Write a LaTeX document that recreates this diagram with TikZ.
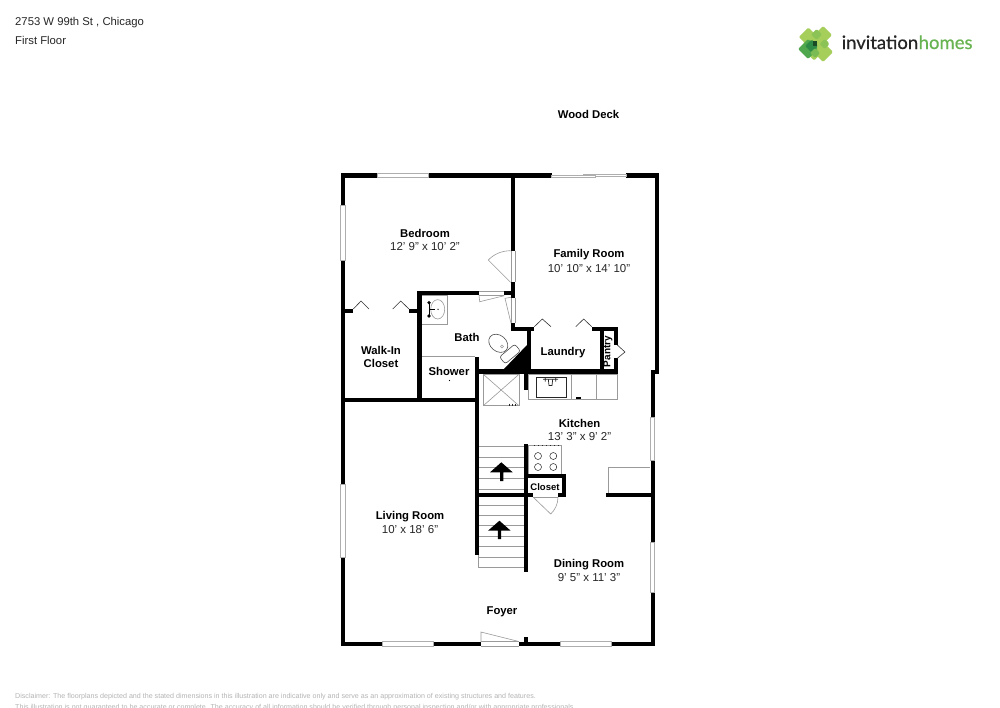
\documentclass[tikz,border=0pt]{standalone}
\usepackage{fontspec}
\setmainfont{Liberation Sans}
\newfontfamily\logofont[RawFeature={embolden=0.5}]{Lato}
\definecolor{thin}{HTML}{9A9A9A}
\definecolor{ltg}{HTML}{A6CE5A}
\definecolor{midg}{HTML}{4FA84E}
\definecolor{dkg}{HTML}{2E8B45}
\definecolor{disc}{HTML}{B4B4B4}
\newcommand{\wl}[4]{\fill[wallfill] (#1,#2) rectangle (#3,#4);}
\newcommand{\winh}[3]{\draw[winline] (#1,#2) rectangle (#3,#2+4.3);}
\newcommand{\winv}[3]{\draw[winline] (#1,#2) rectangle (#1+4.3,#3);}
\newcommand{\dmd}[4]{\fill[#1,rounded corners=1.2pt] (#2,#3-#4) -- (#2+#4,#3) -- (#2,#3+#4) -- (#2-#4,#3) -- cycle;}
\tikzset{
  wallfill/.style={fill=black},
  winline/.style={draw=thin!80,line width=.6pt,fill=white},
  fixture/.style={draw=thin,line width=.6pt},
  doorline/.style={draw=thin,line width=.6pt},
  darkline/.style={draw=black!85,line width=.7pt},
  rname/.style={font=\fontsize{11.3}{13}\selectfont\bfseries,inner sep=0pt,align=center,yshift=-.6pt},
  rsize/.style={font=\fontsize{11.5}{13}\selectfont,inner sep=0pt,text=black!85,yshift=-.6pt},
  head/.style={font=\fontsize{11.3}{13}\selectfont,inner sep=0pt,anchor=west,text=black!85},
  disclaimer/.style={font=\fontsize{7.12}{9}\selectfont,inner sep=0pt,anchor=west,text=disc},
}
\begin{document}
\begin{tikzpicture}[x=1pt,y=-1pt]
\useasboundingbox (0,0) rectangle (1000,707);
\clip (0,0) rectangle (1000,707);
\fill[white] (0,0) rectangle (1000,707);

% header
\node[head] (addr) at (15,23) {2753 W 99th St , Chicago};
\node[head] (floor) at (15,40) {First Floor};

% logo
\begin{scope}[shift={(815,43)}]
  \dmd{ltg}{1}{0}{13}
  \dmd{ltg}{-6.7}{-6}{9.5}
  \dmd{ltg}{8}{-8}{9}
  \dmd{ltg}{8}{9}{10}
  \dmd{ltg}{-1}{10}{7.5}
  \dmd{ltg!70!midg}{1.5}{-8.5}{5.5}
  \dmd{ltg!70!midg}{9.5}{1}{5}
  \dmd{midg}{-7}{6}{10}
  \dmd{dkg}{-3.5}{3}{6.5}
  \dmd{ltg!50!midg}{0}{10}{5}
  \fill[black!45!dkg] (-2,-2.5) rectangle (2,2.5);
\end{scope}
\node[font=\logofont\fontsize{18.5}{20}\selectfont,inner sep=0pt,anchor=base west,text=black!85] (logo1) at (841.5,49) {invitation};
\node[font=\logofont\fontsize{18.5}{20}\selectfont,inner sep=0pt,anchor=base west,text=midg!70!ltg] (logo2) at (918.5,49) {homes};

% fixtures under the walls
\foreach \yy in {446,457.3,467.7,478.3,489,505,515,525.7,536,546.7,557.3} \draw[fixture] (478,\yy) -- (524,\yy);
\draw[fixture] (478.5,555) -- (478.5,567.7) -- (524,567.7);

% counter
\draw[fixture] (528.3,374) rectangle (617.7,399.3);
\draw[fixture] (571.7,374) -- (571.7,399.3) (596.7,374) -- (596.7,399.3);
\draw[darkline] (536.5,377) rectangle (566,397);
\draw[darkline] (543,379.3) -- (558,379.3) (548.3,379.3) -- (549,385.5) -- (552,385.5) -- (552.7,379.3) (545.3,378) -- (545.3,381.5) (555.7,378) -- (555.7,381.5);
\fill[black] (575.7,397.3) rectangle (581,399);

% shower pan
\draw[fixture] (483.3,374.3) rectangle (519,405.7);
\draw[fixture] (483.3,374.3) -- (519,405.7) (519,374.3) -- (483.3,405.7);
\draw[darkline,line width=.4pt] (509,403.5) -- (509,405.7) (512,403.5) -- (512,405.7) (515,403.5) -- (515,405.7);
\fill (449.5,380.5) circle (.6);

% stove
\draw[fixture] (528,445) rectangle (561.7,474);
\foreach \xx/\yy in {538/456,553.3/456,538/467,553.3/467} \draw[darkline,line width=.5pt] (\xx,\yy) circle (3.5);
\draw[darkline,dash pattern=on 1pt off 3pt] (534,445.5) -- (560,445.5);

% peninsula
\draw[fixture] (650,467.3) -- (608.3,467.3) -- (608.3,493);

% bath sink
\draw[fixture] (421.7,295) rectangle (447.3,324.3);
\draw[fixture] (437.7,309.3) ellipse (7 and 9.7);
\draw[black,line width=.8pt] (429,302.7) -- (429,316) (429,309.3) -- (435,309.3);
\fill (429,302.7) circle (1.8) (429,316) circle (1.8) (438,309.3) circle (.7);

% toilet
\draw[fixture,draw=black!70,fill=white,rotate around={-40:(498.3,343.3)}] (498.3,343.3) ellipse (10.5 and 8);
\draw[fixture] (502,346.5) circle (1.5);
\draw[fixture,draw=black!70,fill=white,rounded corners=2.5pt,rotate around={40:(510,354)}] (500,349.5) rectangle (520,358.5);

% shower
\draw[fixture] (421,356.7) -- (475,356.7);

% walls: outer
\wl{341}{173.3}{659.3}{177.5}
\wl{341}{173.3}{345}{646}
\wl{655}{173.3}{659.3}{374}
\wl{650.6}{370}{655}{646}
\wl{341}{641.7}{655}{646}
% bedroom / family wall
\wl{511}{173.3}{515}{331}
% bath walls
\wl{417.3}{291}{421.5}{402}
\wl{417.3}{291}{515}{295}
\wl{341}{309}{353.3}{313}
\wl{409}{309}{417.3}{313}
\wl{341}{398.3}{479}{402.3}
\wl{474.7}{357}{478.7}{555}
\wl{475.7}{369.3}{617.7}{374}
% laundry
\wl{511}{326.7}{534.3}{330.7}
\wl{526.7}{326.7}{530.7}{372}
\wl{524.3}{372}{527.7}{390}
\fill[wallfill] (503,370) -- (527,345) -- (527,370) -- cycle;
\wl{591.7}{326.7}{617.5}{330.7}
\wl{600}{326.7}{603.5}{372}
\wl{613.5}{326.7}{617.5}{345}
\wl{613.5}{358.3}{617.5}{372}
% kitchen / closet
\wl{524}{444}{528.3}{572}
\wl{524}{474.3}{565.7}{478.3}
\wl{561.7}{474.3}{565.7}{496.7}
\wl{474.7}{492.7}{532.7}{496.7}
\wl{558}{492.7}{565.7}{496.7}
\wl{605.7}{492.7}{651}{496.7}
\wl{524}{637}{528}{642}

% windows
\winh{377.7}{173.3}{428}
\winv{340.7}{205}{260}
\winv{340.7}{484}{557}
\winh{382.3}{641.7}{433}
\winh{560}{641.7}{611}
\winv{650.4}{417}{460}
\winv{650.4}{542}{592}
% sliding door
\fill[white] (551.7,172.8) rectangle (626,178);
\draw[winline] (583,173.8) rectangle (626,176);
\draw[winline] (551.7,175.6) rectangle (595,177.6);

% doors
\fill[white] (511.5,250.7) rectangle (514.5,282.3);
\draw[doorline] (511,250.7) -- (511,282.3) (515,250.7) -- (515,282.3);
\draw[doorline] (510.5,282.3) -- (488.3,260) .. controls (494,254) and (502,250.7) .. (510.5,250.7);
% bath top door
\fill[white] (479,291.4) rectangle (504.3,294.6);
\draw[doorline] (479,291) -- (504.3,291) (479,295) -- (504.3,295);
\draw[doorline] (479,295) -- (479.7,301.7) -- (504.3,295.7);
% bath right door
\fill[white] (511.4,297.5) rectangle (514.6,322.7);
\draw[doorline] (511,297.5) -- (511,322.7) (515,297.5) -- (515,322.7);
\draw[doorline] (511,297.3) -- (505,298.3) -- (511,323.3);
% closet chevrons
\draw[doorline,draw=black!80] (353.3,309) -- (361,301) -- (369,309) (392.7,309) -- (400.7,301) -- (409,309);
% laundry chevrons
\draw[doorline,draw=black!80] (534.3,326.7) -- (542.3,319) -- (551,326.7) (575.7,326.7) -- (583.7,319) -- (591.7,326.7);
% pantry chevron
\draw[doorline,draw=black!80] (617.3,345) -- (625,352) -- (617.3,358.3);
% closet door
\draw[doorline] (532.7,497) -- (558,497);
\draw[doorline] (533,497) -- (550.7,514) .. controls (555,510) and (558,504) .. (558,497);
% entry door
\draw[doorline] (481,641.7) -- (519,641.7) (481,646) -- (519,646);
\fill[white] (481.3,642.1) rectangle (518.7,645.6);
\draw[doorline] (481,642) -- (481,632) -- (519,641.5);

% stair arrows
\fill (501.3,462.3) -- (512.7,472.3) -- (503.3,472.3) -- (503.3,481) -- (500,481) -- (500,472.3) -- (490,472.3) -- cycle;
\fill (499.4,520.7) -- (510.7,530.7) -- (501,530.7) -- (501,539) -- (497.8,539) -- (497.8,530.7) -- (488,530.7) -- cycle;

% labels
\node[rname] (deck) at (588.5,114) {Wood Deck};
\node[rname] (bed) at (425,232.5) {Bedroom};
\node[rsize] (bedsz) at (425,245.5) {12' 9" x 10' 2"};
\node[rname] (fam) at (589,254) {Family Room};
\node[rsize] (famsz) at (589,267.5) {10' 10" x 14' 10"};
\node[rname] (bath) at (467,336.5) {Bath};
\node[rname] (walk) at (381,356) {Walk-In\\[0pt]Closet};
\node[rname] (laun) at (563,351.5) {Laundry};
\node[rname,font=\fontsize{10}{11}\selectfont\bfseries,rotate=90] (pan) at (608,351) {Pantry};
\node[rname] (show) at (449,370.5) {Shower};
\node[rname] (kit) at (579.5,423) {Kitchen};
\node[rsize] (kitsz) at (579.5,436) {13' 3" x 9' 2"};
\node[rname,font=\fontsize{9.5}{11}\selectfont\bfseries] (clo) at (545,486.5) {Closet};
\node[rname] (liv) at (410,516) {Living Room};
\node[rsize] (livsz) at (410,529) {10' x 18' 6"};
\node[rname] (din) at (589,563.5) {Dining Room};
\node[rsize] (dinsz) at (589,576.5) {9' 5" x 11' 3"};
\node[rname] (foy) at (502,611.5) {Foyer};

% disclaimer
\node[disclaimer] (d1) at (15,696.5) {Disclaimer: The floorplans depicted and the stated dimensions in this illustration are indicative only and serve as an approximation of existing structures and features.};
\node[disclaimer] (d2) at (15,707.5) {This illustration is not guaranteed to be accurate or complete. The accuracy of all information should be verified through personal inspection and/or with appropriate professionals.};
\end{tikzpicture}
\end{document}
